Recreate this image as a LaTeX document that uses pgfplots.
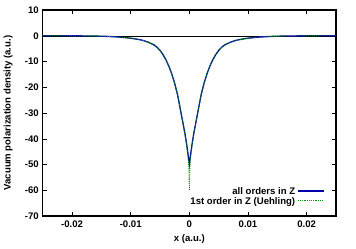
\documentclass[border=0pt]{standalone}
\usepackage{pgfplots}
\pgfplotsset{compat=1.18}
\usepackage{fontspec}
\setmainfont{Liberation Sans}
\definecolor{cblue}{RGB}{0,0,170}
\definecolor{cgreen}{RGB}{0,150,0}
\newcommand{\gfont}{\fontsize{9.6}{11}\selectfont\bfseries}
\pgfplotstableread{
x y
-0.025 0
-0.022 -0.015
-0.020 -0.03
-0.018 -0.06
-0.016 -0.12
-0.015 -0.18
-0.014 -0.26
-0.013 -0.36
-0.012 -0.5
-0.011 -0.7
-0.010 -0.95
-0.009 -1.3
-0.008 -1.75
-0.007 -2.5
-0.006 -3.6
-0.0055 -4.5
-0.005 -5.7
-0.0045 -7.3
-0.004 -9.3
-0.0035 -11.8
-0.003 -14.8
-0.0025 -18.5
-0.002 -23
-0.0015 -29
-0.001 -35
-0.00075 -38
-0.0005 -41.5
-0.00025 -45.5
0 -50
0.00025 -45.5
0.0005 -41.5
0.00075 -38
0.001 -35
0.0015 -29
0.002 -23
0.0025 -18.5
0.003 -14.8
0.0035 -11.8
0.004 -9.3
0.0045 -7.3
0.005 -5.7
0.0055 -4.5
0.006 -3.6
0.007 -2.5
0.008 -1.75
0.009 -1.3
0.010 -0.95
0.011 -0.7
0.012 -0.5
0.013 -0.36
0.014 -0.26
0.015 -0.18
0.016 -0.12
0.018 -0.06
0.020 -0.03
0.022 -0.015
0.025 0
}\allorders
\pgfplotstableread{
x y
-0.025 0
-0.022 -0.015
-0.020 -0.03
-0.018 -0.06
-0.016 -0.12
-0.015 -0.18
-0.014 -0.26
-0.013 -0.36
-0.012 -0.5
-0.011 -0.7
-0.010 -0.95
-0.009 -1.3
-0.008 -1.75
-0.007 -2.5
-0.006 -3.6
-0.0055 -4.5
-0.005 -5.7
-0.0045 -7.3
-0.004 -9.3
-0.0035 -11.8
-0.003 -14.8
-0.0025 -18.5
-0.002 -23
-0.0015 -29
-0.001 -35.2
-0.00075 -38.3
-0.0005 -42
-0.00025 -46.3
-0.0001 -51
-0.00005 -54
0 -60
0.00005 -54
0.0001 -51
0.00025 -46.3
0.0005 -42
0.00075 -38.3
0.001 -35.2
0.0015 -29
0.002 -23
0.0025 -18.5
0.003 -14.8
0.0035 -11.8
0.004 -9.3
0.0045 -7.3
0.005 -5.7
0.0055 -4.5
0.006 -3.6
0.007 -2.5
0.008 -1.75
0.009 -1.3
0.010 -0.95
0.011 -0.7
0.012 -0.5
0.013 -0.36
0.014 -0.26
0.015 -0.18
0.016 -0.12
0.018 -0.06
0.020 -0.03
0.022 -0.015
0.025 0
}\uehling
\begin{document}
\begin{tikzpicture}
\path (-42.7bp,-33bp) rectangle (313.3bp,216bp);
\begin{axis}[
  at={(0,0)}, anchor=south west,
  scale only axis,
  width=293.3bp, height=206bp,
  xmin=-0.025, xmax=0.025,
  ymin=-70, ymax=10,
  xtick={-0.02,-0.01,0,0.01,0.02},
  xticklabels={-0.02,-0.01,0,0.01,0.02},
  ytick={-70,-60,-50,-40,-30,-20,-10,0,10},
  yticklabels={-70,-60,-50,-40,-30,-20,-10,0,10},
  scaled x ticks=false,
  tick align=inside,
  major tick length=4bp,
  tick style={black, line width=0.5bp},
  axis line style={line width=1.4bp},
  ticklabel style={font=\gfont},
  xticklabel style={yshift=-1bp},
  yticklabel style={xshift=-0.5bp},
  label style={font=\gfont},
  xlabel={x (a.u.)},
  ylabel={Vacuum polarization density (a.u.)},
  xlabel style={at={(axis description cs:0.5,-0.11)}, anchor=center},
  ylabel style={at={(axis description cs:-0.118,0.5)}, anchor=center},
  legend style={draw=none, fill=none, font=\gfont,
    at={(axis description cs:0.965,0.035)}, anchor=south east,
    row sep=-2.5bp, inner sep=1bp},
  legend cell align=right,
  legend plot pos=right,
]
\addplot[black, line width=0.5bp, forget plot] coordinates {(-0.025,0) (0.025,0)};
\addplot[cblue, line width=1.3bp,
  legend image code/.code={\draw[cblue, line width=1.4bp] (0bp,0.5bp) -- (26bp,0.5bp);}]
  table[x=x,y=y] {\allorders};
\addlegendentry{all orders in Z}
\addplot[cgreen, line width=0.9bp, densely dotted,
  legend image code/.code={\draw[cgreen, line width=1.2bp, densely dotted] (0bp,0.5bp) -- (26bp,0.5bp);}]
  table[x=x,y=y] {\uehling};
\addlegendentry{1st order in Z (Uehling)}
\end{axis}
\end{tikzpicture}
\end{document}
